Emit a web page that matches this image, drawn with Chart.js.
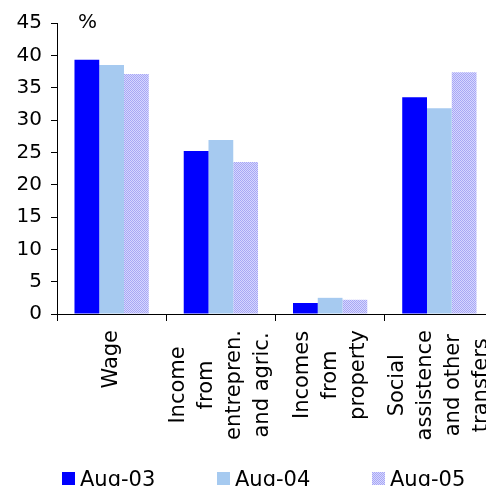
<!DOCTYPE html>
<html>
<head>
<meta charset="utf-8">
<script src="https://cdn.jsdelivr.net/npm/chart.js@4/dist/chart.umd.min.js"></script>
<style>
  html, body { margin: 0; padding: 0; background: #fff; overflow: hidden; width: 486px; height: 486px; }
  #wrap { position: relative; width: 494px; height: 486px; }
</style>
</head>
<body>
<div id="wrap"><canvas id="c" width="494" height="486"></canvas></div>
<script>
// Income structure by source, share of total (%)
const categories = [
  ["Wage"],
  ["Income", "from", "entrepren.", "and agric."],
  ["Incomes", "from", "property"],
  ["Social", "assistence", "and other", "transfers"]
];
const seriesNames = ["Aug-03", "Aug-04", "Aug-05"];
const aug03 = [39.3, 25.2, 1.7, 33.5];
const aug04 = [38.5, 26.9, 2.5, 31.8];
const aug05 = [37.1, 23.5, 2.2, 37.4];
const yMin = 0, yMax = 45, yStep = 5;
const unitLabel = "%";

const FONT = "DejaVu Sans";
const canvas = document.getElementById("c");
const ctx0 = canvas.getContext("2d");

// fine lavender checker fill for the third series
function checkerFill() {
  const p = document.createElement("canvas");
  p.width = 2; p.height = 2;
  const g = p.getContext("2d");
  g.fillStyle = "#d6d6ff"; g.fillRect(0, 0, 2, 2);
  g.fillStyle = "#a8a8f4"; g.fillRect(0, 0, 1, 1); g.fillRect(1, 1, 1, 1);
  return ctx0.createPattern(p, "repeat");
}

const colors = ["#0000ff", "#a6caf0", checkerFill()];

// multi-line rotated category labels, lines centred within their block
const categoryLabels = {
  id: "categoryLabels",
  afterDraw(chart) {
    const xs = chart.scales.x;
    const ctx = chart.ctx;
    ctx.save();
    ctx.font = "21px '" + FONT + "'";
    ctx.fillStyle = "#000";
    ctx.textAlign = "center";
    ctx.textBaseline = "middle";
    const top = xs.top + 16;
    const lineGap = 28;
    categories.forEach((lines, i) => {
      const cx = xs.getPixelForValue(i);
      const maxW = Math.max(...lines.map(t => ctx.measureText(t).width));
      const cy = top + maxW / 2;
      const n = lines.length;
      lines.forEach((t, j) => {
        const lx = cx + (j - (n - 1) / 2) * lineGap;
        ctx.save();
        ctx.translate(lx, cy);
        ctx.rotate(-Math.PI / 2);
        ctx.fillText(t, 0, 0);
        ctx.restore();
      });
    });
    // unit caption above the value axis
    ctx.textAlign = "left";
    ctx.textBaseline = "alphabetic";
    ctx.font = "20px '" + FONT + "'";
    ctx.fillText(unitLabel, chart.chartArea.left + 21, chart.chartArea.top + 5);
    ctx.restore();
  }
};

// legend row along the bottom edge
const bottomLegend = {
  id: "bottomLegend",
  afterDraw(chart) {
    const ctx = chart.ctx;
    ctx.save();
    ctx.font = "21px '" + FONT + "'";
    ctx.textBaseline = "alphabetic";
    ctx.textAlign = "left";
    const startX = 62, stepX = 155, box = 13, boxTop = 472, baseY = 486;
    chart.data.datasets.forEach((ds, i) => {
      const x = startX + i * stepX;
      ctx.fillStyle = ds.backgroundColor;
      ctx.fillRect(x, boxTop, box, box);
      ctx.fillStyle = "#000";
      ctx.fillText(ds.label, x + box + 5, baseY);
    });
    ctx.restore();
  }
};

new Chart(canvas, {
  type: "bar",
  data: {
    labels: categories.map(l => l.join(" ")),
    datasets: [
      { label: seriesNames[0], data: aug03, backgroundColor: colors[0] },
      { label: seriesNames[1], data: aug04, backgroundColor: colors[1] },
      { label: seriesNames[2], data: aug05, backgroundColor: colors[2] }
    ]
  },
  options: {
    responsive: false,
    animation: false,
    layout: { padding: { top: 23, left: 0, right: 0, bottom: 0 } },
    datasets: { bar: { categoryPercentage: 0.68, barPercentage: 1.0, borderWidth: 0 } },
    plugins: { legend: { display: false }, tooltip: { enabled: false } },
    scales: {
      x: {
        grid: { display: true, drawOnChartArea: false, drawTicks: true, tickLength: 7, color: "#000" },
        border: { color: "#000", width: 1 },
        ticks: { display: false },
        afterFit(s) { s.height = 172; }
      },
      y: {
        min: yMin, max: yMax,
        ticks: { stepSize: yStep, color: "#000", font: { family: FONT, size: 20 }, padding: 9 },
        grid: { drawOnChartArea: false, tickLength: 6, color: "#000" },
        border: { color: "#000", width: 1 },
        afterFit(s) { s.width = 57; }
      }
    }
  },
  plugins: [categoryLabels, bottomLegend]
});
</script>
</body>
</html>
